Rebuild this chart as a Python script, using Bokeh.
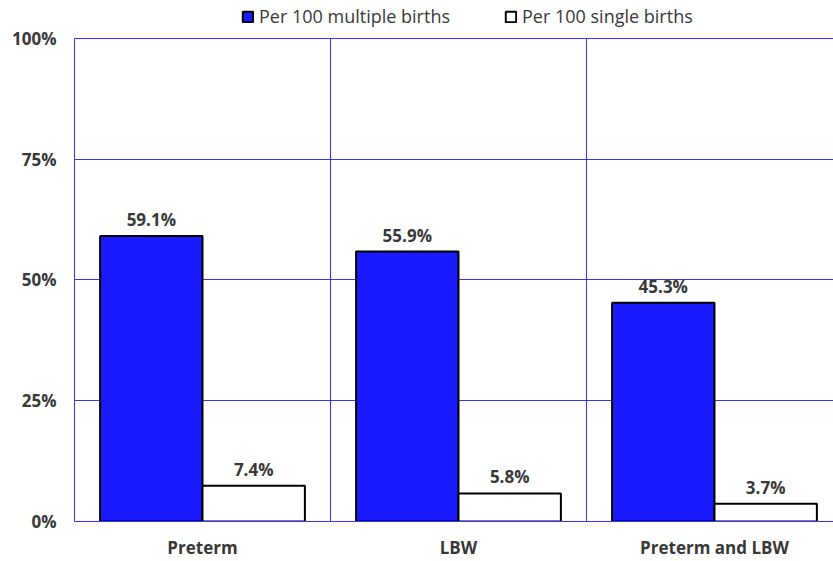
from bokeh.plotting import figure
from bokeh.models import (ColumnDataSource, FixedTicker, Legend, LegendItem, Range1d)
from bokeh.core.properties import value
from bokeh.embed import file_html
from bokeh.resources import INLINE

categories = ["Preterm", "LBW", "Preterm and LBW"]
multiple = [59.1, 55.9, 45.3]
single = [7.4, 5.8, 3.7]
y_ticks = [0, 25, 50, 75, 100]
y_tick_labels = ["0%", "25%", "50%", "75%", "100%"]
series_names = ["Per 100 multiple births", "Per 100 single births"]

FONT = "Open Sans"
GRID = "#3333ff"
TXT = "#383838"
Y_MAX = 100

xc = [i + 0.5 for i in range(len(categories))]
src_m = ColumnDataSource(dict(x=[c - 0.2 for c in xc], top=multiple,
                              lab=[f"{v:.1f}%" for v in multiple]))
src_s = ColumnDataSource(dict(x=[c + 0.2 for c in xc], top=single,
                              lab=[f"{v:.1f}%" for v in single]))

# frame extends above 100% to host the legend inside the plotting area
p = figure(width=833, height=561, output_backend="svg", toolbar_location=None,
           x_range=Range1d(0, 2.965), y_range=Range1d(0, Y_MAX * 1.07867),
           min_border_left=74, min_border_right=0, min_border_top=0,
           min_border_bottom=40)
p.outline_line_color = None
p.background_fill_color = "white"

# category separators (vertical grid lines), bounded to the 0-100% area
bounds_x = list(range(len(categories)))
p.segment(x0=bounds_x, x1=bounds_x, y0=[0] * len(bounds_x),
          y1=[Y_MAX] * len(bounds_x), line_color=GRID, line_width=1)
p.xgrid.grid_line_color = None
p.ygrid.ticker = FixedTicker(ticks=y_ticks)
p.ygrid.grid_line_color = GRID
p.ygrid.grid_line_width = 1

r1 = p.vbar(x="x", top="top", width=0.4, bottom=0, source=src_m,
            fill_color="#1a1aff", line_color="black", line_width=2)
r2 = p.vbar(x="x", top="top", width=0.4, bottom=0, source=src_s,
            fill_color="white", line_color="black", line_width=2)

for s in (src_m, src_s):
    p.text(x="x", y="top", text="lab", source=s, text_align="center",
           text_baseline="bottom", y_offset=-5, text_font=value(FONT),
           text_font_style="bold", text_font_size="17px", text_color=TXT)

# axes
p.xaxis.ticker = FixedTicker(ticks=xc)
p.xaxis.major_label_overrides = {c: n for c, n in zip(xc, categories)}
p.yaxis.ticker = FixedTicker(ticks=y_ticks)
p.yaxis.major_label_overrides = {t: l for t, l in zip(y_ticks, y_tick_labels)}
p.yaxis.bounds = (0, Y_MAX)
for ax in (p.xaxis, p.yaxis):
    ax.axis_line_color = GRID
    ax.major_tick_line_color = None
    ax.minor_tick_line_color = None
    ax.major_tick_out = 0
    ax.major_tick_in = 0
    ax.minor_tick_out = 0
    ax.minor_tick_in = 0
    ax.major_label_text_font = FONT
    ax.major_label_text_font_style = "bold"
    ax.major_label_text_font_size = "17px"
    ax.major_label_text_color = TXT
p.yaxis.major_label_standoff = 18
p.xaxis.major_label_standoff = 14

legend = Legend(items=[LegendItem(label=series_names[0], renderers=[r1]),
                       LegendItem(label=series_names[1], renderers=[r2])],
                orientation="horizontal", location=(167, 493),
                label_text_font=FONT, label_text_font_size="18px",
                label_text_color=TXT, glyph_width=13, glyph_height=13,
                spacing=54, padding=4, margin=0, label_standoff=5,
                border_line_color=None, background_fill_alpha=0)
p.add_layout(legend, "center")

open("out.html", "w").write(file_html(p, INLINE))
